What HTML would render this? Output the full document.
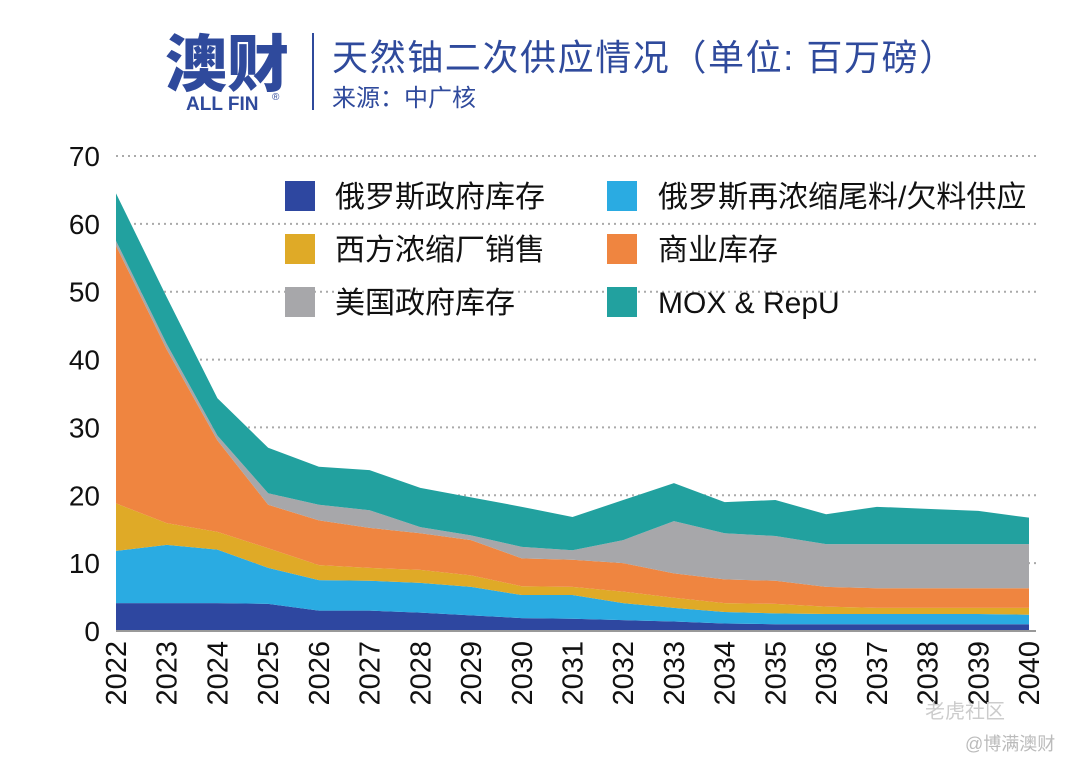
<!DOCTYPE html>
<html><head><meta charset="utf-8"><style>
body{margin:0;background:#fff;width:1080px;height:767px;overflow:hidden;font-family:"Liberation Sans","Noto Sans CJK SC",sans-serif}
</style></head><body>
<svg width="1080" height="767" xmlns="http://www.w3.org/2000/svg">
<g>
<text x="165" y="86" font-size="62" font-weight="900" fill="#2f4a9c" font-family="Noto Sans CJK SC,sans-serif">澳财</text>
<text x="186" y="110" font-size="19" font-weight="bold" fill="#2f4a9c">ALL FIN</text>
<text x="272" y="100" font-size="10" fill="#2f4a9c">®</text>
<line x1="313" y1="33" x2="313" y2="110" stroke="#2f4a9c" stroke-width="2"/>
<text x="332" y="70" font-size="36" letter-spacing="1.6" fill="#2f4a9c" font-family="Liberation Sans,Noto Sans CJK SC,sans-serif">天然铀二次供应情况（单位: 百万磅）</text>
<text x="332" y="106" font-size="24" fill="#2f4a9c" font-family="Liberation Sans,Noto Sans CJK SC,sans-serif">来源：中广核</text>
</g>
<g id="grid"></g><g id="areas"></g><g id="yticks"></g><g id="xticks"></g>
<g font-size="30" fill="#111" font-family="Liberation Sans,Noto Sans CJK SC,sans-serif">
<rect x="285" y="181" width="30" height="30" fill="#2e47a0"/>
<text x="335" y="207">俄罗斯政府库存</text>
<rect x="607" y="181" width="30" height="30" fill="#2aabe2"/>
<text x="658" y="207">俄罗斯再浓缩尾料/欠料供应</text>
<rect x="285" y="234" width="30" height="30" fill="#dfaa27"/>
<text x="335" y="260">西方浓缩厂销售</text>
<rect x="607" y="234" width="30" height="30" fill="#ef8540"/>
<text x="658" y="260">商业库存</text>
<rect x="285" y="287" width="30" height="30" fill="#a7a7aa"/>
<text x="335" y="313">美国政府库存</text>
<rect x="607" y="287" width="30" height="30" fill="#22a19f"/>
<text x="658" y="313">MOX &amp; RepU</text>
</g>
<text x="925" y="718" font-size="20" fill="#ccc">老虎社区</text>
<text x="965" y="750" font-size="18" fill="#bbb">@博满澳财</text>
</svg>
<script>
const years=["2022","2023","2024","2025","2026","2027","2028","2029","2030","2031","2032","2033","2034","2035","2036","2037","2038","2039","2040"];
const russiaGov=[4.1,4.1,4.1,4.0,3.0,3.0,2.7,2.3,1.9,1.8,1.6,1.4,1.1,1.0,1.0,1.0,1.0,1.0,1.0];
const russiaTails=[7.7,8.6,7.9,5.3,4.5,4.4,4.4,4.2,3.4,3.5,2.5,2.0,1.7,1.6,1.5,1.5,1.5,1.5,1.4];
const westernEnrich=[7.0,3.2,2.6,2.9,2.2,1.9,1.9,1.7,1.3,1.2,1.7,1.5,1.3,1.4,1.1,0.9,0.9,0.9,1.0];
const commercial=[38.0,25.6,13.5,6.4,6.6,5.9,5.4,5.2,4.1,4.0,4.2,3.6,3.5,3.4,2.9,2.9,2.9,2.9,2.9];
const usGov=[0.7,0.8,0.7,1.7,2.3,2.6,0.9,0.7,1.7,1.4,3.4,7.7,6.8,6.6,6.3,6.5,6.5,6.5,6.5];
const moxRepu=[7.0,6.9,5.5,6.7,5.6,5.9,5.8,5.6,5.9,4.9,5.9,5.6,4.6,5.3,4.4,5.5,5.2,4.9,3.9];
const yTicks=[0,10,20,30,40,50,60,70];
const NS="http://www.w3.org/2000/svg";
function X(i){return 116+i*(1029-116)/(years.length-1);}
function Y(v){return 631-v*(631-156)/70;}
const series=[[russiaGov,"#2e47a0","area-russia-gov"],[russiaTails,"#2aabe2","area-russia-tails"],[westernEnrich,"#dfaa27","area-western-enrich"],[commercial,"#ef8540","area-commercial"],[usGov,"#a7a7aa","area-us-gov"],[moxRepu,"#22a19f","area-mox-repu"]];
const grid=document.getElementById("grid");
yTicks.forEach(t=>{
 if(t>0){const l=document.createElementNS(NS,"line");
 l.setAttribute("x1",116);l.setAttribute("x2",1036);l.setAttribute("y1",Y(t));l.setAttribute("y2",Y(t));
 l.setAttribute("stroke","#aaa");l.setAttribute("stroke-width","2");l.setAttribute("stroke-dasharray","2 4");
 
 
 grid.appendChild(l);}
 const tx=document.createElementNS(NS,"text");
 tx.setAttribute("x",100);tx.setAttribute("y",Y(t)+10);tx.setAttribute("text-anchor","end");tx.setAttribute("font-size","28");tx.setAttribute("fill","#111");
 tx.textContent=t;
 
 
 document.getElementById("yticks").appendChild(tx);
});
let base=years.map(()=>0);
const areas=document.getElementById("areas");
series.forEach(([vals,col,name])=>{
 const top=base.map((b,i)=>b+vals[i]);
 let d="M"+years.map((_,i)=>X(i)+","+Y(top[i])).join("L");
 for(let i=years.length-1;i>=0;i--)d+="L"+X(i)+","+Y(base[i]);
 d+="Z";
 const p=document.createElementNS(NS,"path");
 p.setAttribute("d",d);p.setAttribute("fill",col);
 
 
 areas.appendChild(p);
 base=top;
});
const ax=document.createElementNS(NS,"line");
ax.setAttribute("x1",116);ax.setAttribute("x2",1036);ax.setAttribute("y1",631);ax.setAttribute("y2",631);ax.setAttribute("stroke","#999");ax.setAttribute("stroke-width","2");


areas.appendChild(ax);
years.forEach((yr,i)=>{
 const t=document.createElementNS(NS,"text");
 t.setAttribute("transform","translate("+(X(i)+10)+",641) rotate(-90)");
 t.setAttribute("text-anchor","end");t.setAttribute("font-size","29");t.setAttribute("fill","#111");
 t.textContent=yr;
 
 
 document.getElementById("xticks").appendChild(t);
});
</script>
</body></html>
